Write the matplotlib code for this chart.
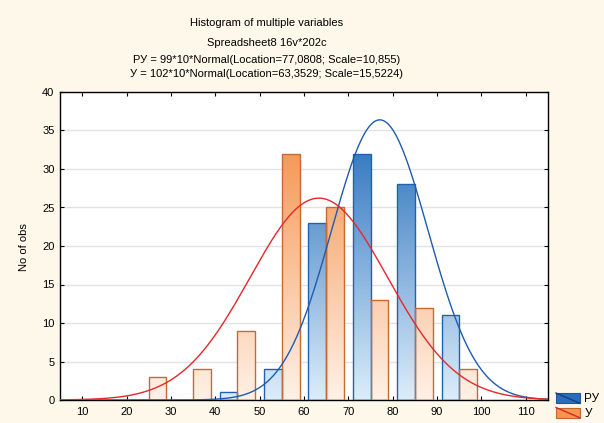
import numpy as np
import matplotlib
matplotlib.use("Agg")
import matplotlib.pyplot as plt
from matplotlib.patches import Rectangle
from matplotlib.lines import Line2D
from matplotlib.legend_handler import HandlerBase
from matplotlib.colors import LinearSegmentedColormap

plt.rcParams['font.family'] = ['Liberation Sans', 'DejaVu Sans']

# ---- data ----
bin_lefts = [20, 30, 40, 50, 60, 70, 80, 90]
ry_counts = [0, 0, 1, 4, 23, 32, 28, 11]      # РУ
y_counts = [3, 4, 9, 32, 25, 13, 12, 4]        # У
ry_n, ry_loc, ry_scale = 99, 77.0808, 10.855
y_n, y_loc, y_scale = 102, 63.3529, 15.5224
bin_width = 10
series_names = ['РУ', 'У']
title_lines = ["Histogram of multiple variables",
               "Spreadsheet8 16v*202c",
               "РУ = 99*10*Normal(Location=77,0808; Scale=10,855)",
               "У = 102*10*Normal(Location=63,3529; Scale=15,5224)"]

fig = plt.figure(figsize=(6.04, 4.23), dpi=100)
fig.patch.set_facecolor('#fdf8ea')
ax = fig.add_axes([60/604, 1-400/423, (548-60)/604, (400-92)/423])
ax.set_facecolor('white')

blue_cmap = LinearSegmentedColormap.from_list('b', ['#dcedfa', '#3a7cc2'])
orange_cmap = LinearSegmentedColormap.from_list('o', ['#fff1e7', '#f59a58'])

def grad_bars(lefts, counts, offset, cmap, edge):
    bars = ax.bar(np.array(lefts) + offset, counts, width=4, align='edge',
                  facecolor='none', edgecolor=edge, linewidth=1.0, zorder=3)
    grad = np.linspace(0, 40/32, 256).reshape(-1, 1)
    for b, c in zip(bars, counts):
        if c <= 0:
            continue
        x0 = b.get_x()
        im = ax.imshow(grad, cmap=cmap, vmin=0, vmax=1, origin='lower',
                       extent=[x0, x0 + 4, 0, 40], aspect='auto', zorder=2,
                       interpolation='bilinear')
        im.set_clip_path(b)
    return bars

grad_bars(bin_lefts, ry_counts, 1, blue_cmap, '#2261b0')
grad_bars(bin_lefts, y_counts, 5, orange_cmap, '#c46a32')

xs = np.linspace(5, 115, 500)
def npdf(x, m, s):
    return np.exp(-0.5*((x-m)/s)**2)/(s*np.sqrt(2*np.pi))
ax.plot(xs, ry_n*bin_width*npdf(xs, ry_loc, ry_scale), color='#1f5bb0', lw=1.0, zorder=4)
ax.plot(xs, y_n*bin_width*npdf(xs, y_loc, y_scale), color='#e8262c', lw=1.0, zorder=4)

ax.set_xlim(5, 115)
ax.set_ylim(0, 40)
ax.set_xticks(range(10, 111, 10))
ax.set_yticks(range(0, 41, 5))
ax.yaxis.grid(True, color='#e2e2e2', lw=1.0)
ax.set_axisbelow(True)
ax.tick_params(direction='in', length=3, labelsize=8, top=True, right=True,
               labeltop=False, labelright=False, colors='black')
ax.tick_params(axis='x', pad=5)
ax.tick_params(axis='y', pad=4)
for s in ax.spines.values():
    s.set_color('black')
    s.set_linewidth(1.0)
ax.set_ylabel('No of obs', fontsize=8)
ax.yaxis.set_label_coords(-0.064, 0.495)

ys = [23, 43, 60, 74]
for t, yy in zip(title_lines, ys):
    fig.text(267/604, 1 - yy/423, t, ha='center', va='center', fontsize=8)

class DiagHandler(HandlerBase):
    def __init__(self, face, edge, line):
        super().__init__()
        self.face, self.edge, self.line = face, edge, line
    def create_artists(self, legend, orig_handle, xdescent, ydescent, width, height, fontsize, trans):
        r = Rectangle((-xdescent, -ydescent), width, height, facecolor=self.face,
                      edgecolor=self.edge, lw=0.8, transform=trans)
        l = Line2D([-xdescent, -xdescent + width], [-ydescent + height, -ydescent],
                   color=self.line, lw=1.0, transform=trans)
        return [r, l]

h1 = Rectangle((0, 0), 1, 1)
h2 = Rectangle((0, 0), 1, 1)
leg = fig.legend([h1, h2], series_names, loc='upper left',
                 bbox_to_anchor=(556/604, 1 - 393/423), frameon=False, fontsize=8.5,
                 handlelength=2.0, handleheight=0.95, handletextpad=0.4,
                 labelspacing=0.2, borderpad=0.0, borderaxespad=0.0,
                 handler_map={h1: DiagHandler('#2a6dbb', '#1d58a0', '#163f78'),
                              h2: DiagHandler('#f5964f', '#c0672e', '#e0202a')})

fig.savefig('out.png', dpi=100, facecolor=fig.get_facecolor())
